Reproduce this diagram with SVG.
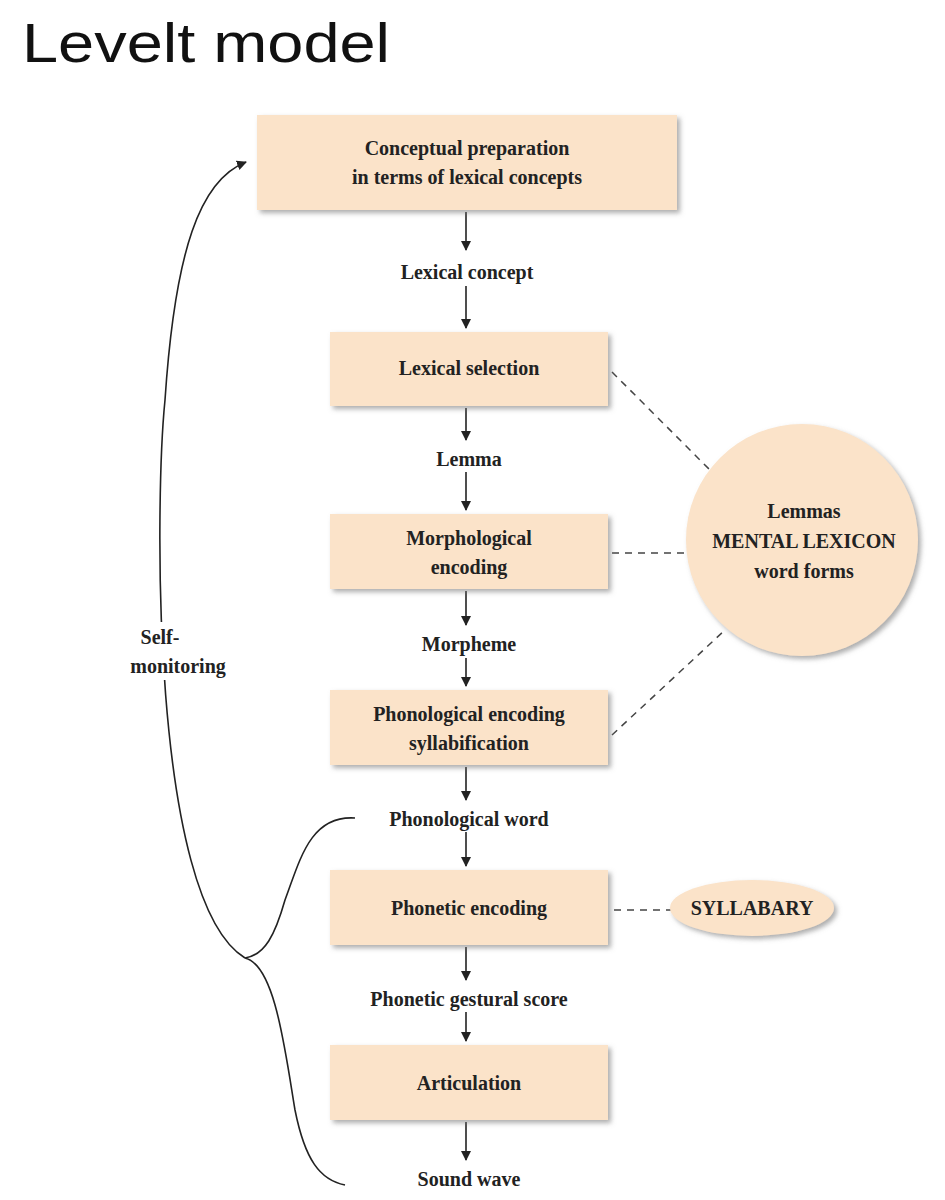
<svg xmlns="http://www.w3.org/2000/svg" width="945" height="1200" viewBox="0 0 945 1200">
<defs>
<marker id="ah" markerWidth="10" markerHeight="10" refX="9" refY="5" orient="auto" markerUnits="userSpaceOnUse"><path d="M0,0 L10,5 L0,10 Z" fill="#222"/></marker>
<filter id="sh" x="-10%" y="-10%" width="125%" height="130%"><feDropShadow dx="3" dy="3" stdDeviation="2.5" flood-color="#777" flood-opacity="0.6"/></filter>
<style>
.box{fill:#fbe3c9;filter:url(#sh)}
.t{font-family:"Liberation Serif",serif;font-weight:bold;font-size:20px;fill:#222;text-anchor:middle}
.ln{stroke:#222;stroke-width:1.6;fill:none}
.ds{stroke:#444;stroke-width:1.5;stroke-dasharray:7,6;fill:none}
</style>
</defs>
<rect width="945" height="1200" fill="#fff"/>
<text x="22" y="62" font-family="Liberation Sans,sans-serif" font-size="56" textLength="368" lengthAdjust="spacingAndGlyphs" fill="#111">Levelt model</text>
<g id="connectors">
<line class="ln" x1="466" y1="212" x2="466" y2="250" marker-end="url(#ah)"/>
<line class="ln" x1="466" y1="286" x2="466" y2="328" marker-end="url(#ah)"/>
<line class="ln" x1="466" y1="408" x2="466" y2="440" marker-end="url(#ah)"/>
<line class="ln" x1="466" y1="472" x2="466" y2="510" marker-end="url(#ah)"/>
<line class="ln" x1="466" y1="591" x2="466" y2="625" marker-end="url(#ah)"/>
<line class="ln" x1="466" y1="658" x2="466" y2="686" marker-end="url(#ah)"/>
<line class="ln" x1="466" y1="767" x2="466" y2="800" marker-end="url(#ah)"/>
<line class="ln" x1="466" y1="832" x2="466" y2="866" marker-end="url(#ah)"/>
<line class="ln" x1="466" y1="947" x2="466" y2="980" marker-end="url(#ah)"/>
<line class="ln" x1="466" y1="1012" x2="466" y2="1041" marker-end="url(#ah)"/>
<line class="ln" x1="466" y1="1122" x2="466" y2="1160" marker-end="url(#ah)"/>
<line class="ds" x1="612" y1="372" x2="710" y2="470"/>
<line class="ds" x1="612" y1="553" x2="686" y2="553"/>
<line class="ds" x1="612" y1="735" x2="725" y2="630"/>
<line class="ds" x1="614" y1="910" x2="672" y2="910" stroke-dasharray="4,5"/>
<path class="ln" d="M245,958 C150,900 155,500 165,400 C175,250 200,180 246,162" marker-end="url(#ah)"/>
<path class="ln" d="M355,818 C310,815 300,860 285,900 C275,935 265,955 245,958 C275,965 285,1050 295,1110 C305,1160 320,1180 345,1185"/>
</g>
<g id="n1"><rect class="box" x="257" y="115" width="420" height="95"/><text class="t" x="467" y="155">Conceptual preparation</text><text class="t" x="467" y="184">in terms of lexical concepts</text></g>
<g id="l1"><text class="t" x="467" y="279">Lexical concept</text></g>
<g id="n2"><rect class="box" x="330" y="332" width="278" height="74"/><text class="t" x="469" y="375">Lexical selection</text></g>
<g id="l2"><text class="t" x="469" y="466">Lemma</text></g>
<g id="n3"><rect class="box" x="330" y="514" width="278" height="75"/><text class="t" x="469" y="545">Morphological</text><text class="t" x="469" y="574">encoding</text></g>
<g id="l3"><text class="t" x="469" y="651">Morpheme</text></g>
<g id="n4"><rect class="box" x="330" y="690" width="278" height="75"/><text class="t" x="469" y="721">Phonological encoding</text><text class="t" x="469" y="750">syllabification</text></g>
<g id="l4"><text class="t" x="469" y="826">Phonological word</text></g>
<g id="n5"><rect class="box" x="330" y="870" width="278" height="75"/><text class="t" x="469" y="915">Phonetic encoding</text></g>
<g id="l5"><text class="t" x="469" y="1006">Phonetic gestural score</text></g>
<g id="n6"><rect class="box" x="330" y="1045" width="278" height="75"/><text class="t" x="469" y="1090">Articulation</text></g>
<g id="l6"><text class="t" x="469" y="1186">Sound wave</text></g>
<g id="lex"><circle cx="802" cy="540" r="116" fill="#fbe3c9" filter="url(#sh)"/><text class="t" x="804" y="518">Lemmas</text><text class="t" x="804" y="548">MENTAL LEXICON</text><text class="t" x="804" y="578">word forms</text></g>
<g id="syl"><ellipse cx="752" cy="908" rx="82" ry="28" fill="#fbe3c9" filter="url(#sh)"/><text class="t" x="752" y="915">SYLLABARY</text></g>
<g id="sm"><rect x="120" y="622" width="112" height="58" fill="#fff"/><text class="t" x="160" y="644">Self-</text><text class="t" x="178" y="673">monitoring</text></g>
</svg>
